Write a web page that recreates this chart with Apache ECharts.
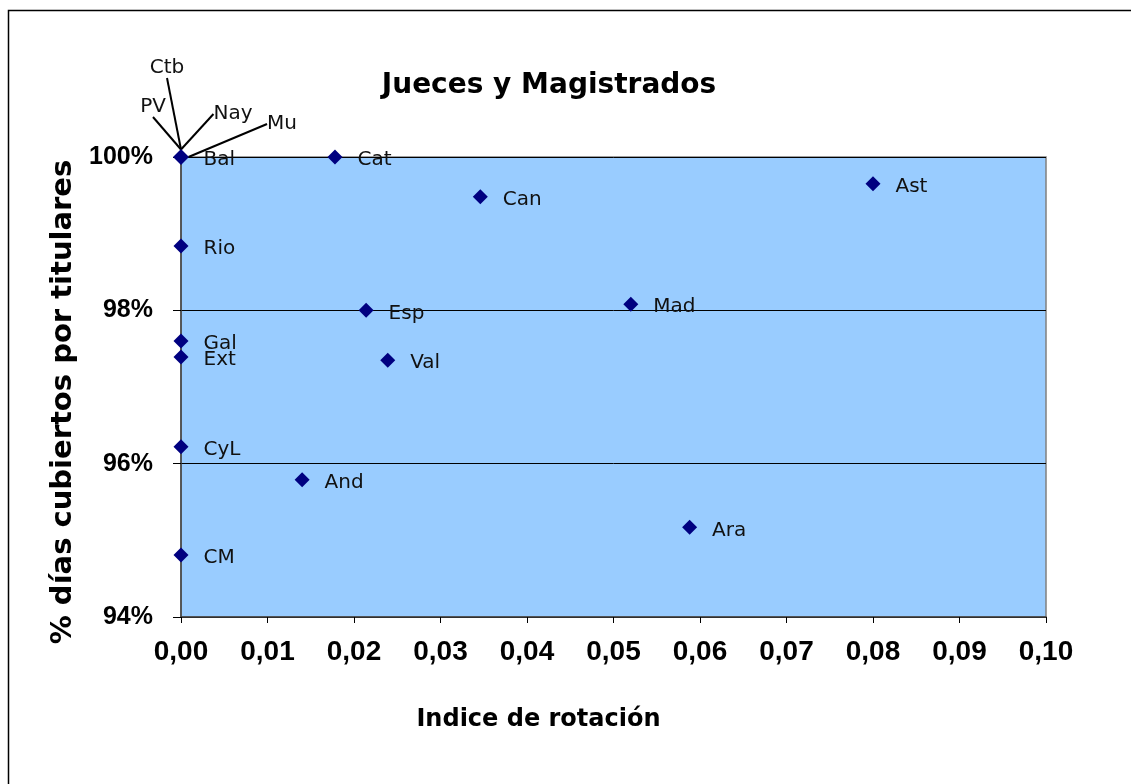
<!DOCTYPE html>
<html><head><meta charset="utf-8">
<script src="https://cdn.jsdelivr.net/npm/echarts@6/dist/echarts.min.js"></script>
<style>html,body{margin:0;padding:0;background:#fff}#c{width:1131px;height:784px}</style>
</head><body><div id="c"></div>
<script>
var names = ['Bal','Ctb','PV','Nay','Mu','Cat','Can','Ast','Rio','Mad','Esp','Gal','Ext','Val','CyL','And','Ara','CM'];
var rotacion = [0,0,0,0,0,0.0178,0.0346,0.0800,0,0.0520,0.0214,0,0,0.0239,0,0.0140,0.0588,0];
var cubiertos = [100,100,100,100,100,100,99.48,99.65,98.84,98.08,98.00,97.60,97.39,97.35,96.22,95.79,95.17,94.81];
var xTicks = ['0,00','0,01','0,02','0,03','0,04','0,05','0,06','0,07','0,08','0,09','0,10'];
var yTicks = {94:'94%',96:'96%',98:'98%',100:'100%'};
// leader-label offsets (label moved away from the point)
var leaders = {Ctb:[-14,-89], PV:[-28,-50], Nay:[52,-43], Mu:[101,-33]};

var data = names.map(function(n,i){
  return {name:n, value:[rotacion[i], cubiertos[i]], labelLine:{show: !!leaders[n]}};
});

var chart = echarts.init(document.getElementById('c'));
chart.setOption({
  animation:false,
  backgroundColor:'#fff',
  title:{text:'Jueces y Magistrados', left:544, top:67, textAlign:'center',
    textStyle:{fontFamily:'DejaVu Sans', fontWeight:'bold', fontSize:28, color:'#000'}},
  graphic:[{type:'rect', shape:{x:8.5,y:10.5,width:1200,height:900}, style:{fill:null, stroke:'#000', lineWidth:1.5}, z:-1}],
  grid:{left:181, top:157, width:865, height:460, show:true, backgroundColor:'#99CCFF', borderColor:'#808080', borderWidth:1.5},
  xAxis:{type:'value', min:0, max:0.1, interval:0.01,
    name:'Indice de rotación', nameLocation:'middle', nameGap:91,
    nameTextStyle:{fontFamily:'DejaVu Sans', fontWeight:'bold', fontSize:24, color:'#000', padding:[0,150,0,0]},
    axisLine:{show:true, onZero:false, lineStyle:{color:'#404040', width:1.5}},
    axisTick:{show:true, length:6, lineStyle:{color:'#000'}},
    splitLine:{show:false},
    axisLabel:{margin:21, fontFamily:'Arial', fontWeight:'bold', fontSize:28, color:'#000',
      formatter:function(v){return xTicks[Math.round(v*100)];}}},
  yAxis:{type:'value', min:94, max:100, interval:2,
    name:'% días cubiertos por titulares', nameLocation:'middle', nameGap:101, nameRotate:90,
    nameTextStyle:{fontFamily:'DejaVu Sans', fontWeight:'bold', fontSize:29, color:'#000', padding:[0,30,0,0]},
    axisLine:{show:true, onZero:false, lineStyle:{color:'#404040', width:1.5}},
    axisTick:{show:true, length:8, lineStyle:{color:'#000'}},
    splitLine:{show:true, lineStyle:{color:'#000', width:1}},
    axisLabel:{margin:28, padding:[6,0,0,0], fontFamily:'Arial', fontWeight:'bold', fontSize:25, color:'#000',
      formatter:function(v){return yTicks[Math.round(v)] || '';}}},
  series:[{
    type:'scatter', symbol:'diamond', symbolSize:15, itemStyle:{color:'#000080', opacity:1},
    data:data, clip:false,
    label:{show:true, position:'right', distance:15, formatter:'{b}',
      fontFamily:'DejaVu Sans', fontSize:20, color:'#111'},
    labelLine:{show:false, lineStyle:{color:'#000', width:2}}
  }]
});
chart.setOption({series:[{labelLayout:function(p){
  var n = names[p.dataIndex];
  var o = leaders[n];
  if(!o) return {dy:3};
  var pt = chart.convertToPixel({gridIndex:0}, [rotacion[p.dataIndex], cubiertos[p.dataIndex]]);
  return {x:pt[0]+o[0], y:pt[1]+o[1], align:'center', verticalAlign:'middle'};
}}]});
</script></body></html>
